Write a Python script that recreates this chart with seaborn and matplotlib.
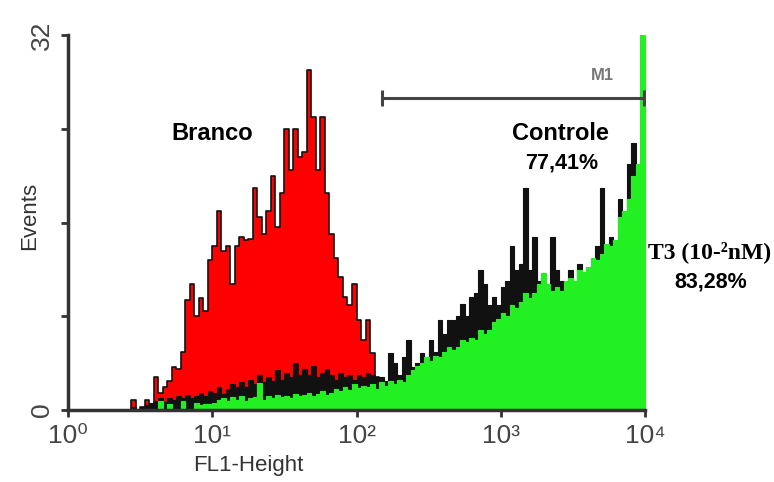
import numpy as np
import pandas as pd
import matplotlib
matplotlib.use("Agg")
import matplotlib.pyplot as plt
import seaborn as sns

# canais log (32 por década, de 10^0 a 10^4)
n_canais = 128
log_centro = (np.arange(n_canais) + 0.5) / 32

# Branco (preenchido vermelho)
branco = [
    0, 0, 0, 0, 0, 0, 0, 0, 0, 0, 0, 0, 0, 0, 0.9, 0,
    0.3, 0.9, 0.5, 2.8, 1.5, 2, 2.5, 3.7, 3.5, 5, 9.4, 10.8, 8, 9.6, 8.5, 12.8,
    14, 17, 13.6, 14, 10.8, 14, 14.8, 14.5, 14.6, 19, 16.5, 15, 17, 20, 15.6, 18.5,
    24, 20.5, 24, 21.6, 22, 29, 25, 20.5, 25, 18.5, 15, 13, 11.4, 9.7, 9, 10.8,
    7.7, 6, 7.7, 4.9, 2.8, 1.5, 0.8, 0, 0, 0, 0, 0, 0, 0, 0, 0,
    1, 0.6, 0, 0, 0, 0, 0, 0, 0, 0, 0, 0, 0, 0.8, 1, 0.7,
    0, 1, 0, 0.8, 0, 0.9, 0, 0, 0.7, 0, 0, 0, 0, 0, 1.5, 1.2,
    0, 0, 0, 0, 0, 0, 0, 0, 0, 0, 0, 0.8, 1.2, 0.8, 0, 0,
]

# Controle (preto)
controle = [
    0, 0, 0, 0, 0, 0, 0, 0, 0, 0, 0, 0, 0, 0, 0.3, 0,
    0.3, 0.4, 0.6, 0.8, 1, 0.7, 1, 0.9, 1.2, 1, 1.3, 1, 1.2, 1.5, 1.2, 1.6,
    1.5, 2, 1.4, 1.8, 2.2, 2, 2.4, 2, 2.6, 2.2, 3, 2.4, 2.8, 2.5, 3.4, 2.6,
    3.2, 2.8, 4, 3, 3.5, 3, 3.8, 2.8, 3.2, 3.5, 3, 2.6, 3.2, 2.8, 3, 2.6,
    3, 2.8, 3.2, 3, 2.8, 2.8, 2.5, 4.9, 4, 3, 4.5, 6, 3.7, 4, 4.9, 4.5,
    6, 5, 7.7, 6.5, 7.7, 7.7, 8, 9.1, 8, 9.7, 10, 12, 10.8, 9, 9.7, 9,
    10.5, 11, 14, 12, 12.5, 19, 12, 14.8, 11, 11.4, 10, 14.8, 12, 11, 10, 12,
    11, 12.5, 11, 12, 11, 14, 19, 13, 14.8, 12, 18, 16, 21, 22.8, 15, 10,
]

# T3 (10-2 nM) (verde)
t3 = [
    0, 0, 0, 0, 0, 0, 0, 0, 0, 0, 0, 0, 0, 0, 0, 0,
    0, 0, 0, 0, 0.8, 0, 0.5, 0, 0, 0.8, 0, 0, 0.6, 0.4, 0.5, 0.5,
    0.6, 0.9, 1, 0.8, 1.1, 0.9, 1.2, 0.8, 1, 1.1, 2.3, 0.9, 1.2, 1, 1.3, 1.1,
    1.2, 1, 1.4, 1.2, 1.3, 1.5, 1.2, 1.4, 1.6, 1.3, 1.5, 1.8, 1.6, 2, 1.7, 2.2,
    1.9, 2.1, 2, 2.2, 1.8, 2.4, 2.1, 2.5, 2.2, 2.6, 2.4, 3, 3.4, 3.8, 4, 4.5,
    4.2, 4.6, 4.5, 5, 5.4, 5.1, 5.4, 6, 5.8, 6.2, 6, 6.8, 6.5, 6.8, 7.5, 7.8,
    8.3, 8, 9, 8.7, 9.2, 10, 9.6, 10, 10.8, 11.7, 10.8, 10.2, 10.5, 10.2, 11, 11.3,
    11, 12, 11.8, 12.2, 13, 12.8, 13.3, 14.2, 14, 14.5, 16.5, 17, 18, 20, 21, 40,
]

df = pd.DataFrame({
    "fl1": 10 ** log_centro,
    "branco": branco,
    "controle": controle,
    "t3": t3,
})

sns.set_style("white")
plt.rcParams["font.family"] = ["Liberation Sans", "DejaVu Sans"]

fig = plt.figure(figsize=(7.74, 4.82), dpi=100)
ax = fig.add_axes([0.0879, 0.149, 0.7454, 0.778])

comum = dict(x="fl1", bins=n_canais, binrange=(0, 4), log_scale=True,
             element="step", fill=True, alpha=1, ax=ax)
sns.histplot(data=df, weights="branco", color="#ff0000", edgecolor="#111111",
             linewidth=1.2, **comum)
sns.histplot(data=df, weights="controle", color="#111111", edgecolor="#111111",
             linewidth=0.8, **comum)
sns.histplot(data=df, weights="t3", color="#22f022", edgecolor="#22f022",
             linewidth=0.8, **comum)

# marcador M1
ax.plot([150, 9800], [26.6, 26.6], color="#444444", lw=2.2, marker="|",
        markersize=11, markeredgewidth=2.2, zorder=1)


def rotulo(x, y, s, size, family=None, color="black"):
    # posição em pixels da imagem (origem no canto superior esquerdo)
    fig.text(x / 774, 1 - y / 482, s, fontsize=size, fontweight="bold",
             ha="center", va="center", color=color,
             family=family or ["Liberation Sans", "DejaVu Sans"])


rotulo(602, 76, "M1", 12, color="#777777")

ax.set_xlim(1, 10000)
ax.set_ylim(0, 32)
ax.minorticks_off()
ax.set_xticks([1, 10, 100, 1000, 10000])
ax.set_xticklabels(["10⁰", "10¹", "10²", "10³", "10⁴"], fontsize=19, color="#444444")
ax.set_yticks([0, 32])
ax.set_yticklabels(["0", "32"], rotation=90, va="center", fontsize=19, color="#444444")
ax.set_yticks([8, 16, 24], minor=True)
ax.tick_params(axis="both", which="both", direction="out", length=5, width=2,
               color="#333333", pad=5, left=True, bottom=True)

for lado in ["top", "right"]:
    ax.spines[lado].set_visible(False)
for lado in ["left", "bottom"]:
    ax.spines[lado].set_color("#333333")
    ax.spines[lado].set_linewidth(2.5)

ax.set_xlabel("FL1-Height", fontsize=16, color="#333333")
ax.set_ylabel("Events", fontsize=16, color="#333333")
ax.xaxis.set_label_coords(0.312, -0.12)
ax.yaxis.set_label_coords(-0.049, 0.517)

# textos das amostras
rotulo(212, 133, "Branco", 17)
rotulo(560, 134, "Controle", 17)
rotulo(562, 163, "77,41%", 15.5)
rotulo(710, 252, "T3 (10-²nM)", 17, ["Liberation Serif", "DejaVu Serif"])
rotulo(711, 282, "83,28%", 15.5)

fig.savefig("out.png", dpi=100)
